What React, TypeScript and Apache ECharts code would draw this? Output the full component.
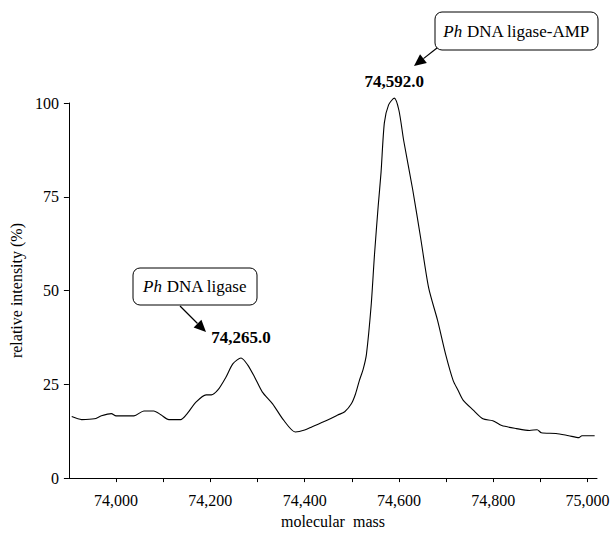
import React, { useEffect, useRef } from "react";
import * as echarts from "echarts";

const masses = [
  73906, 73927, 73954, 73969, 73990, 74000, 74038, 74059, 74080, 74095, 74112, 74137,
  74149, 74170, 74191, 74202, 74216, 74233, 74248, 74265, 74279, 74294, 74310, 74332,
  74355, 74380, 74400, 74416, 74451, 74470, 74485, 74499, 74508, 74516, 74524, 74531,
  74541, 74548, 74556, 74562, 74569, 74578, 74590, 74600, 74610, 74629, 74646, 74663,
  74682, 74699, 74715, 74725, 74736, 74757, 74778, 74799, 74818, 74849, 74877, 74893,
  74902, 74933, 74960, 74982, 74988, 75015,
];
const intensities = [
  16.4, 15.6, 15.8, 16.6, 17.2, 16.6, 16.6, 17.9, 17.9, 16.9, 15.6, 15.6,
  16.9, 20.3, 22.2, 22.2, 23.5, 26.9, 30.5, 32.0, 30.2, 26.9, 23.0, 19.8,
  15.5, 12.3, 12.8, 13.7, 15.6, 16.8, 17.7, 19.8, 22.5, 26.0, 29.0, 33.0,
  46.0, 59.4, 72.6, 81.5, 94.7, 99.5, 101.3, 98.0, 90.0, 77.0, 64.0, 50.7,
  42.0, 33.0, 26.0, 23.5, 20.8, 18.2, 15.8, 15.3, 14.0, 13.2, 12.7, 12.9,
  12.1, 11.9, 11.3, 10.8, 11.3, 11.3,
];
const xTicks = [74000, 74100, 74200, 74300, 74400, 74500, 74600, 74700, 74800, 74900, 75000];
const xTickLabels = [74000, 74200, 74400, 74600, 74800, 75000];
const peakMasses = [74265, 74590];
const peakValues = [32.0, 100];
const peakLabels = ["74,265.0", "74,592.0"];
const calloutTexts = ["{i|Ph} DNA ligase", "{i|Ph} DNA ligase-AMP"];
const xAxisName = "molecular  mass";
const yAxisName = "relative intensity (%)";

const FONT = "Liberation Serif, serif";

function arrow(x1: number, y1: number, x2: number, y2: number) {
  const dx = x2 - x1;
  const dy = y2 - y1;
  const len = Math.sqrt(dx * dx + dy * dy);
  const ux = dx / len;
  const uy = dy / len;
  const hl = 12;
  const hw = 5.5;
  const bx = x2 - ux * hl;
  const by = y2 - uy * hl;
  return [
    {
      type: "line",
      shape: { x1, y1, x2: bx, y2: by },
      style: { stroke: "#000", lineWidth: 1.2 },
    },
    {
      type: "polygon",
      shape: {
        points: [
          [x2, y2],
          [bx - uy * hw, by + ux * hw],
          [bx + uy * hw, by - ux * hw],
        ],
      },
      style: { fill: "#000" },
    },
  ];
}

function callout(x: number, y: number, w: number, h: number, text: string) {
  return [
    {
      type: "rect",
      shape: { x, y, width: w, height: h, r: 7 },
      style: { fill: "#fff", stroke: "#000", lineWidth: 1 },
    },
    {
      type: "text",
      x: x + w / 2,
      y: y + h / 2,
      style: {
        text,
        fill: "#000",
        fontSize: 17,
        fontFamily: FONT,
        align: "center",
        verticalAlign: "middle",
        rich: {
          i: { fontStyle: "italic", fontSize: 17, fontFamily: FONT, fill: "#000" },
        },
      },
    },
  ];
}

export default function App() {
  const ref = useRef<HTMLDivElement>(null);
  useEffect(() => {
    document.body.style.margin = "0";
    if (!ref.current) return;
    const chart = echarts.init(ref.current, undefined, { renderer: "svg" });
    const data = masses.map((m, i) => [m, intensities[i]]);
    chart.setOption({
      animation: false,
      backgroundColor: "#fff",
      textStyle: { fontFamily: FONT, color: "#000" },
      grid: { left: 66, top: 103, right: 19, bottom: 52 },
      xAxis: {
        type: "value",
        min: 73900,
        max: 75020,
        name: xAxisName,
        nameLocation: "middle",
        nameGap: 34,
        nameTextStyle: { fontSize: 16, fontFamily: FONT, color: "#000" },
        axisLine: { show: true, onZero: false, lineStyle: { color: "#000", width: 1 } },
        axisTick: {
          show: true,
          length: 4,
          customValues: xTicks,
          lineStyle: { color: "#000" },
        },
        axisLabel: {
          fontSize: 16,
          fontFamily: FONT,
          color: "#000",
          margin: 14,
          customValues: xTickLabels,
          formatter: (v: number) => v.toLocaleString("en-US"),
        },
        splitLine: { show: false },
      },
      yAxis: {
        type: "value",
        min: 0,
        max: 100,
        interval: 25,
        name: yAxisName,
        nameLocation: "middle",
        nameGap: 38,
        nameTextStyle: { fontSize: 16, fontFamily: FONT, color: "#000" },
        axisLine: { show: true, lineStyle: { color: "#000", width: 1 } },
        axisTick: { show: true, length: 5, lineStyle: { color: "#000" } },
        axisLabel: { fontSize: 16, fontFamily: FONT, color: "#000", margin: 10 },
        splitLine: { show: false },
      },
      series: [
        {
          type: "line",
          data,
          clip: false,
          smooth: 0.25,
          showSymbol: false,
          symbol: "none",
          lineStyle: { color: "#000", width: 1.1 },
          markPoint: {
            symbol: "circle",
            symbolSize: 0,
            label: {
              show: true,
              position: "top",
              distance: 12,
              fontSize: 17,
              fontWeight: "bold",
              fontFamily: FONT,
              color: "#000",
              formatter: (p: any) => p.name,
            },
            data: [
              { name: peakLabels[0], coord: [peakMasses[0], peakValues[0]] },
              {
                name: peakLabels[1],
                coord: [peakMasses[1], peakValues[1]],
                label: { distance: 13 },
              },
            ],
          },
        },
      ],
      graphic: [
        ...callout(133, 268, 124, 37, calloutTexts[0]),
        ...arrow(180, 306, 206, 332),
        ...callout(435, 12, 163, 38, calloutTexts[1]),
        ...arrow(437, 48, 414, 66),
      ],
    });
    return () => chart.dispose();
  }, []);
  return <div ref={ref} style={{ width: 616, height: 534 }} />;
}
